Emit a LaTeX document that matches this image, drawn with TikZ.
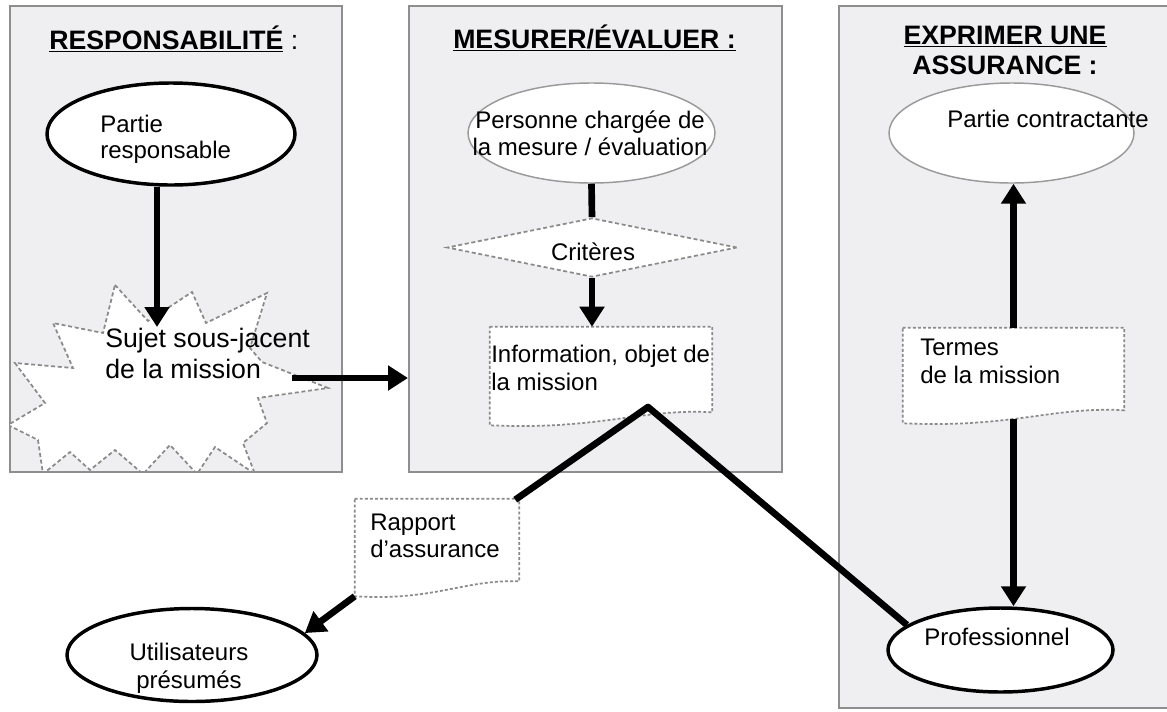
\documentclass[tikz,border=0pt]{standalone}
\usepackage{fontspec}
\setmainfont{Liberation Sans}
\usetikzlibrary{arrows.meta,shapes.geometric,calc}
\definecolor{panelfill}{HTML}{EFEFF1}
\definecolor{panelborder}{HTML}{8E8E8E}
\definecolor{thingray}{HTML}{9A9A9A}
\definecolor{dotgray}{HTML}{8A8A8A}
\newcommand\mlL[1]{\begin{tabular}[t]{@{}l@{}}#1\end{tabular}}
\newcommand\mlC[1]{\begin{tabular}[t]{@{}c@{}}#1\end{tabular}}
\tikzset{
  panel/.style={rectangle, draw=panelborder, fill=panelfill, line width=1.5pt, inner sep=0pt},
  boldell/.style={ellipse, draw=black, fill=white, line width=2.6pt, inner sep=0pt},
  thinell/.style={ellipse, draw=thingray, fill=white, line width=1.1pt, inner sep=0pt},
  dotline/.style={draw=dotgray, line width=1.3pt, dash pattern=on 2.2pt off 1.6pt, fill=white},
  dashline/.style={draw=dotgray, line width=1.3pt, dash pattern=on 3pt off 2pt, fill=white},
  docbox/.style={rectangle, inner sep=0pt},
  txt/.style={inner sep=0pt},
  titletxt/.style={inner sep=0pt, font=\fontsize{20}{23}\selectfont\bfseries},
  conn/.style={line width=5pt, draw=black},
  arr/.style={conn, -{Triangle[length=15pt,width=18pt]}},
}
\begin{document}
\begin{tikzpicture}[x=0.75pt,y=-0.75pt]
\useasboundingbox (0,0) rectangle (1167,711);
\clip (0,0) rectangle (1167,711);
\fill[white] (0,0) rectangle (1167,711);

% panels
\node[panel, minimum width=332*0.75pt, minimum height=466*0.75pt] (p1) at (176,239) {};
\node[panel, minimum width=373*0.75pt, minimum height=466*0.75pt] (p2) at (595.5,239) {};
\node[panel, minimum width=346*0.75pt, minimum height=702*0.75pt] (p3) at (1012,357) {};

% starburst
\begin{scope}
\clip (10,6) rectangle (342,472);
\path[dashline] (115,285) -- (148,321) -- (192,292) -- (206,323) -- (267,293)
  -- (250,348) -- (262,362) -- (328,388) -- (258,398) -- (267,423) -- (243,443)
  -- (255,474) -- (215,447) -- (197,474) -- (170,445) -- (143,474) -- (115,450)
  -- (90,470) -- (70,452) -- (43,474) -- (38,440) -- (8,425) -- (45,403)
  -- (15,363) -- (73,368) -- (53,323) -- (103,333) -- cycle;
\end{scope}
\draw[panelborder, line width=1.5pt] (10,472) -- (342,472);

% ellipses and diamond
\node[boldell, minimum width=248*0.75pt, minimum height=102*0.75pt] (e1) at (171,134) {};
\node[thinell, minimum width=247*0.75pt, minimum height=100*0.75pt] (e2) at (591.5,133) {};
\node[thinell, minimum width=245*0.75pt, minimum height=100*0.75pt] (e3) at (1011.5,133) {};
\node[boldell, minimum width=225*0.75pt, minimum height=84*0.75pt] (prof) at (1000.5,650) {};
\node[boldell, minimum width=250*0.75pt, minimum height=93*0.75pt] (util) at (192,655) {};
\node[diamond, dashline, inner sep=0pt, shape aspect=4.9, minimum width=290*0.75pt, minimum height=59*0.75pt] (crit) at (592,247.5) {};

% documents
\node[docbox, minimum width=222*0.75pt, minimum height=98*0.75pt] (info) at (601,376) {};
\path[dotline] (info.north west) -- (info.north east) -- ($(info.south east)+(0,-13)$)
  .. controls ($(info.south east)+(-72,-17)$) and ($(info.south east)+(-112,5)$) .. (info.south west) -- cycle;
\node[docbox, minimum width=221*0.75pt, minimum height=95*0.75pt] (termes) at (1013.5,375.5) {};
\path[dotline] (termes.north west) -- (termes.north east) -- ($(termes.south east)+(0,-13)$)
  .. controls ($(termes.south east)+(-72,-17)$) and ($(termes.south east)+(-112,5)$) .. (termes.south west) -- cycle;
\node[docbox, minimum width=164*0.75pt, minimum height=97*0.75pt] (rapport) at (437,547.5) {};
\path[dotline] (rapport.north west) -- (rapport.north east) -- ($(rapport.south east)+(0,-15)$)
  .. controls ($(rapport.south east)+(-55,-17)$) and ($(rapport.south east)+(-85,5)$) .. (rapport.south west) -- cycle;

% titles
\node[titletxt, anchor=base west] (h1) at (49,49) {\underline{RESPONSABILITÉ}\mdseries\ :};
\node[titletxt, anchor=base west] (h2) at (453,48) {\underline{MESURER/ÉVALUER :}};
\node[titletxt, anchor=base] (h3) at (1005,44) {\mlC{\underline{EXPRIMER UNE}\\ASSURANCE :}};

% texts
\node[txt, anchor=base west, font=\fontsize{18}{19.5}\selectfont] (t1) at (100,132) {\mlL{Partie\\responsable}};
\node[txt, anchor=base west, font=\fontsize{20}{23.25}\selectfont] (t2) at (105,347) {\mlL{Sujet sous-jacent\\de la mission}};
\node[txt, anchor=base, font=\fontsize{18}{20.25}\selectfont] (t3) at (590,128) {\mlC{Personne chargée de\\la mesure / évaluation}};
\node[txt, anchor=base, font=\fontsize{18}{21}\selectfont] (t4) at (593,260) {Critères};
\node[txt, anchor=base west, font=\fontsize{18}{21}\selectfont] (t5) at (491,362) {\mlL{Information, objet de\\la mission}};
\node[txt, anchor=base west, font=\fontsize{18}{20.25}\selectfont] (t6) at (370,530) {\mlL{Rapport\\d’assurance}};
\node[txt, anchor=base, font=\fontsize{18}{21}\selectfont] (t7) at (189,660) {\mlC{Utilisateurs\\présumés}};
\node[txt, anchor=base west, font=\fontsize{18}{21}\selectfont] (t8) at (947,127) {Partie contractante};
\node[txt, anchor=base west, font=\fontsize{18}{21}\selectfont] (t9) at (920,355) {\mlL{Termes\\de la mission}};
\node[txt, anchor=base west, font=\fontsize{18}{21}\selectfont] (t10) at (924,645) {Professionnel};

% connectors
\coordinate (a1) at (157,327);
\draw[arr] (a1 |- e1.south) -- (a1);
\coordinate (a2) at (292,378);
\draw[arr] (a2) -- (a2 -| p2.west);
\draw[conn] (e2.south) -- (crit.north);
\draw[arr] (crit.south) -- (crit.south |- info.north);
\coordinate (pk) at (648,407);
\draw[conn, line join=round] ($(rapport.north east)+(-4,1)$) -- (pk) -- (prof.165);
\draw[arr] (termes.north) -- (termes.north |- e3.south);
\draw[arr] ($(termes.south)+(0,-4)$) -- (termes.south |- prof.north);
\draw[arr] (rapport.south west) -- (util.11);
\end{tikzpicture}
\end{document}
